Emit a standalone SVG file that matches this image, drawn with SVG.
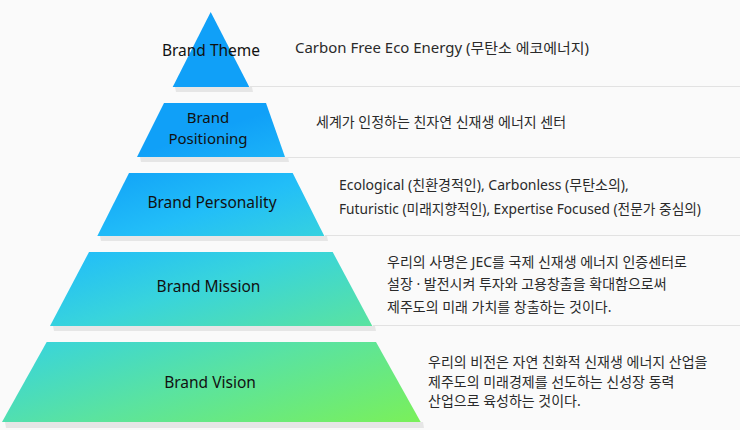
<svg xmlns="http://www.w3.org/2000/svg" width="740" height="430" viewBox="0 0 740 430">
  <defs>
    <linearGradient id="pg" gradientUnits="userSpaceOnUse" x1="150" y1="150" x2="257" y2="475">
      <stop offset="0" stop-color="#10a0f8"/>
      <stop offset="0.22" stop-color="#22bef8"/>
      <stop offset="0.42" stop-color="#38d4dc"/>
      <stop offset="0.69" stop-color="#5ae3a0"/>
      <stop offset="1" stop-color="#7af05a"/>
    </linearGradient>
    <style>
      .shape { fill: url(#pg); }
      .shadow { fill: #e6e6e6; }
      .label { font-family: "Noto Sans", "Noto Sans CJK KR", sans-serif; font-size: 15.5px; fill: #111; text-anchor: middle; }
      .small { font-size: 15px; }
      .desc { font-family: "Noto Sans", "Noto Sans CJK KR", sans-serif; font-size: 14px; fill: #2a2a2a; }
      .divider { stroke: #e2e2e2; stroke-width: 1; }
    </style>
  </defs>
  <rect width="740" height="430" fill="#fafafa"/>
  <g id="connectors">
    <line class="divider" x1="250" y1="86.5" x2="740" y2="86.5"/>
    <line class="divider" x1="286" y1="157.5" x2="740" y2="157.5"/>
    <line class="divider" x1="325" y1="235.5" x2="740" y2="235.5"/>
    <line class="divider" x1="373" y1="325.5" x2="740" y2="325.5"/>
  </g>
  <g id="brand-theme">
    <polygon class="shadow" points="175,87 252,87 253,92 176,92"/>
    <polygon class="shape" points="210.7,12 249.3,87 172.7,87"/>
    <text class="label" x="211" y="55.5">Brand Theme</text>
    <text class="desc" x="295" y="53" textLength="294" lengthAdjust="spacingAndGlyphs">Carbon Free Eco Energy (무탄소 에코에너지)</text>
  </g>
  <g id="brand-positioning">
    <polygon class="shadow" points="140,157 288,157 289,162 141,162"/>
    <polygon class="shape" points="164,103 266,103 285,157 137,157"/>
    <text class="label small" x="208" y="123">Brand</text>
    <text class="label small" x="208" y="143.5">Positioning</text>
    <text class="desc" x="316" y="127">세계가 인정하는 친자연 신재생 에너지 센터</text>
  </g>
  <g id="brand-personality">
    <polygon class="shadow" points="100,236 327,236 328,241 101,241"/>
    <polygon class="shape" points="129,173 292.7,173 324.3,236 97.3,236"/>
    <text class="label" x="212" y="208">Brand Personality</text>
    <text class="desc" x="339" y="190">Ecological (친환경적인), Carbonless (무탄소의),</text>
    <text class="desc" x="339" y="213.5" textLength="362" lengthAdjust="spacingAndGlyphs">Futuristic (미래지향적인), Expertise Focused (전문가 중심의)</text>
  </g>
  <g id="brand-mission">
    <polygon class="shadow" points="53,326 375,326 376,331 54,331"/>
    <polygon class="shape" points="89,252 332.7,252 372.3,326 50,326"/>
    <text class="label" x="208.5" y="292">Brand Mission</text>
    <text class="desc" x="387" y="267">우리의 사명은 JEC를 국제 신재생 에너지 인증센터로</text>
    <text class="desc" x="387" y="288.5">설장 · 발전시켜 투자와 고용창출을 확대함으로써</text>
    <text class="desc" x="387" y="312">제주도의 미래 가치를 창출하는 것이다.</text>
  </g>
  <g id="brand-vision">
    <polygon class="shadow" points="5,422 423,422 424,428 6,428"/>
    <polygon class="shape" points="46.7,342 376,342 420.7,422 2,422"/>
    <text class="label" x="210" y="387.5">Brand Vision</text>
    <text class="desc" x="428" y="367">우리의 비전은 자연 친화적 신재생 에너지 산업을</text>
    <text class="desc" x="428" y="387">제주도의 미래경제를 선도하는 신성장 동력</text>
    <text class="desc" x="428" y="406">산업으로 육성하는 것이다.</text>
  </g>
</svg>
